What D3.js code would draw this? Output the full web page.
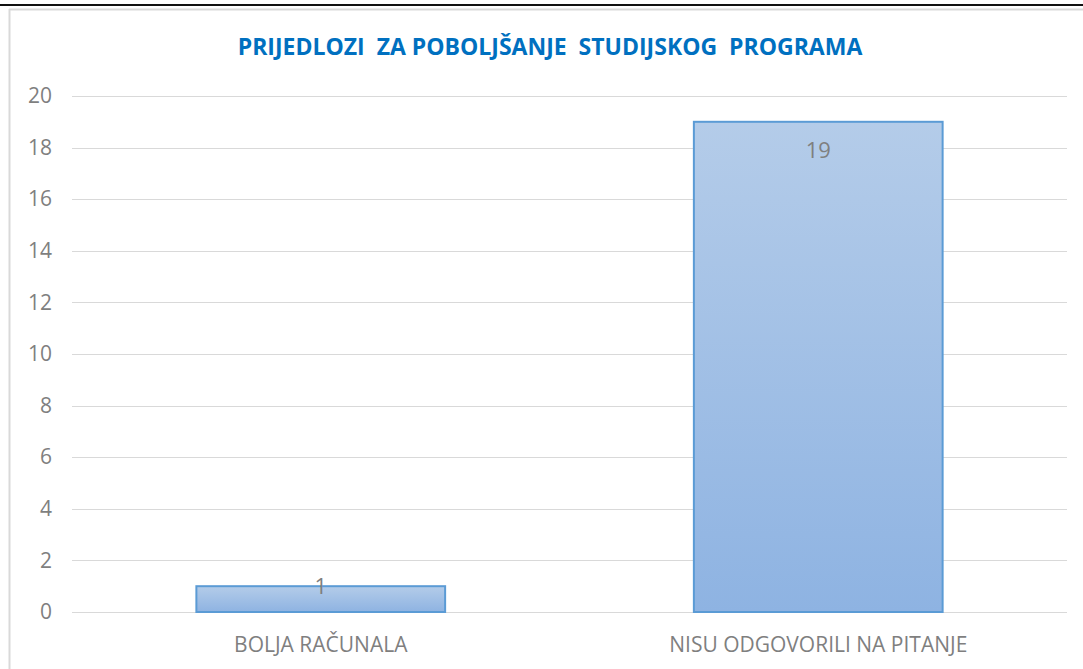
<!DOCTYPE html>
<html>
<head>
<meta charset="utf-8">
<script src="https://cdn.jsdelivr.net/npm/d3@7"></script>
<style>
  body { margin: 0; background: #fff; }
  text { font-family: "Open Sans", "Noto Sans", sans-serif; }
</style>
</head>
<body>
<div id="chart"></div>
<script>
// chart data
var categories = ["BOLJA RAČUNALA", "NISU ODGOVORILI NA PITANJE"];
var counts = [1, 19];
var yTicks = [0, 2, 4, 6, 8, 10, 12, 14, 16, 18, 20];
var chartTitle = "PRIJEDLOZI  ZA POBOLJŠANJE  STUDIJSKOG  PROGRAMA";

var svgWidth = 1083;
var svgHeight = 669;

var margin = { top: 96, right: 16, bottom: 57, left: 72 };
var width = svgWidth - margin.left - margin.right;
var height = svgHeight - margin.top - margin.bottom;

var svg = d3.select("#chart")
    .append("svg")
    .attr("width", svgWidth)
    .attr("height", svgHeight);

var defs = svg.append("defs");
var grad = defs.append("linearGradient")
    .attr("id", "barGrad")
    .attr("x1", 0).attr("y1", 0).attr("x2", 0).attr("y2", 1);
grad.append("stop").attr("offset", "0%").attr("stop-color", "#b4cce9");
grad.append("stop").attr("offset", "100%").attr("stop-color", "#8eb3e2");

// frame bits from the screenshot
svg.append("rect")
    .attr("x", 0).attr("y", 4)
    .attr("width", svgWidth).attr("height", 2)
    .attr("fill", "#111");
svg.append("line")
    .attr("x1", 9.5).attr("x2", 9.5)
    .attr("y1", 9).attr("y2", svgHeight)
    .attr("stroke", "#d9d9d9").attr("stroke-width", 2);
svg.append("line")
    .attr("x1", 9).attr("x2", svgWidth)
    .attr("y1", 9.5).attr("y2", 9.5)
    .attr("stroke", "#d9d9d9").attr("stroke-width", 2);

var chartGroup = svg.append("g")
    .attr("transform", `translate(${margin.left}, ${margin.top})`);

var xBandScale = d3.scaleBand()
    .domain(categories)
    .range([0, width])
    .paddingInner(0.5)
    .paddingOuter(0.25);

var yLinearScale = d3.scaleLinear()
    .domain([0, 20])
    .range([height, 0]);

// gridlines
chartGroup.append("g")
    .selectAll("line")
    .data(yTicks)
    .enter()
    .append("line")
    .attr("x1", 0)
    .attr("x2", width)
    .attr("y1", d => Math.round(yLinearScale(d)) + 0.5)
    .attr("y2", d => Math.round(yLinearScale(d)) + 0.5)
    .attr("stroke", "#d9d9d9")
    .attr("stroke-width", 1);

var leftAxis = d3.axisLeft(yLinearScale)
    .tickValues(yTicks)
    .tickSize(0)
    .tickPadding(20);

var yAxisGroup = chartGroup.append("g").call(leftAxis);
yAxisGroup.select(".domain").remove();
yAxisGroup.selectAll("text")
    .style("font-size", "21px")
    .style("fill", "#7f7f7f");

var bottomAxis = d3.axisBottom(xBandScale)
    .tickSize(0)
    .tickPadding(25);

var xAxisGroup = chartGroup.append("g")
    .attr("transform", `translate(0, ${height})`)
    .call(bottomAxis);
xAxisGroup.select(".domain").remove();
xAxisGroup.selectAll("text")
    .style("font-size", "21px")
    .style("fill", "#7f7f7f");

chartGroup.selectAll(".bar")
    .data(counts)
    .enter()
    .append("rect")
    .attr("class", "bar")
    .attr("x", (d, i) => xBandScale(categories[i]))
    .attr("y", d => yLinearScale(d))
    .attr("width", xBandScale.bandwidth())
    .attr("height", d => height - yLinearScale(d))
    .attr("fill", "url(#barGrad)")
    .attr("stroke", "#5b9bd5")
    .attr("stroke-width", 2);

// short bars get the label pushed up to the top edge
chartGroup.selectAll(".valueLabel")
    .data(counts)
    .enter()
    .append("text")
    .attr("class", "valueLabel")
    .attr("x", (d, i) => xBandScale(categories[i]) + xBandScale.bandwidth() / 2)
    .attr("y", d => (height - yLinearScale(d)) > 40 ? yLinearScale(d) + 36 : yLinearScale(d) + 8)
    .style("font-size", "22px")
    .style("text-anchor", "middle")
    .style("fill", "#7f7f7f")
    .text(d => d);

svg.append("text")
    .attr("x", 550)
    .attr("y", 55)
    .style("font-size", "23px")
    .style("font-weight", "bold")
    .style("fill", "#0070c0")
    .style("text-anchor", "middle")
    .style("white-space", "pre")
    .text(chartTitle);
</script>
</body>
</html>
